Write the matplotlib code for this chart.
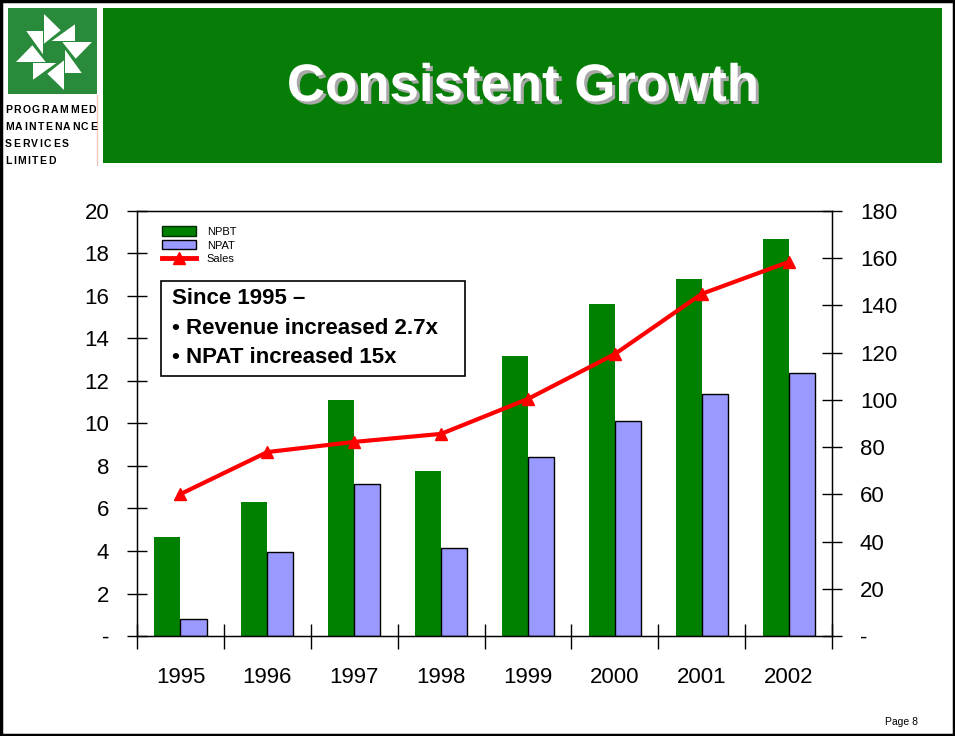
import numpy as np
import matplotlib.pyplot as plt
import matplotlib.patheffects as pe
from matplotlib.patches import Rectangle, Polygon, Patch
from matplotlib.lines import Line2D

plt.rcParams['font.family'] = ['Liberation Sans', 'DejaVu Sans']

# data
years = ['1995', '1996', '1997', '1998', '1999', '2000', '2001', '2002']
npbt = [4.66, 6.3, 11.1, 7.76, 13.18, 15.62, 16.8, 18.68]
npat = [0.8, 3.95, 7.15, 4.14, 8.42, 10.12, 11.39, 12.38]
sales = [60.1, 77.9, 82.2, 85.6, 100.4, 119.4, 144.9, 158.4]
left_ticks = [0, 2, 4, 6, 8, 10, 12, 14, 16, 18, 20]
right_ticks = [0, 20, 40, 60, 80, 100, 120, 140, 160, 180]
note_lines = ['Since 1995 \u2013', '\u2022 Revenue increased 2.7x', '\u2022 NPAT increased 15x']
logo_words = ['PROGRAMMED', 'MAINTENANCE', 'SERVICES', 'LIMITED']

W, H = 955, 736
fig = plt.figure(figsize=(W / 100, H / 100), dpi=100)

# overlay in pixel coords for the slide decoration
deco = fig.add_axes([0, 0, 1, 1])
deco.set_xlim(0, W)
deco.set_ylim(H, 0)
deco.set_axis_off()
deco.add_patch(Rectangle((1, 1), W - 2, H - 2, fill=False, ec='black', lw=2.5))
deco.add_patch(Rectangle((103, 8), 839, 155, color='#067d06', lw=0))
deco.text(522.5, 87, 'Consistent Growth', color='white', fontsize=38,
          fontweight='bold', ha='center', va='center',
          path_effects=[pe.SimplePatchShadow(offset=(2.2, -2.2), shadow_rgbFace='#a8a8a8',
                                             alpha=1), pe.Normal()])
deco.text(901, 722, 'Page 8', fontsize=7.5, ha='center', va='center')

# logo
deco.add_patch(Rectangle((8, 8), 89, 86, color='#2a8a3c', lw=0))
cx, cy = 54, 52
tri_a = np.array([[-10, -38], [6.7, -21.7], [-10, -8.3]])
tri_b = np.array([[-2.3, -11], [21, -27.7], [21, -11]])
for k in range(4):
    ang = np.pi / 2 * k
    rot = np.array([[np.cos(ang), -np.sin(ang)], [np.sin(ang), np.cos(ang)]])
    for tri in (tri_a, tri_b):
        pts = tri @ rot.T + [cx, cy]
        deco.add_patch(Polygon(pts, closed=True, color='white', lw=0))
deco.plot([97, 97], [95, 165], color='#f2c4c4', lw=1)

widths = {'P': .667, 'R': .722, 'O': .778, 'G': .778, 'A': .722, 'M': .833, 'E': .667,
          'D': .722, 'I': .278, 'N': .722, 'T': .611, 'C': .722, 'S': .667, 'V': .667,
          'L': .611}
em = 7.5 * 100 / 72
for word, yy in zip(logo_words, [110, 127, 144, 161]):
    xx = 5
    for ch in word:
        deco.text(xx, yy, ch, fontsize=7.5, fontweight='bold', ha='left', va='center')
        xx += widths[ch] * em + 1.5

# chart
ax = fig.add_axes([137 / W, 100 / H, 695 / W, 425 / H])
x = np.arange(len(years))
ax.bar(x - 0.15, npbt, 0.3, color='#008000', lw=0)
ax.bar(x + 0.15, npat, 0.3, color='#9999ff', edgecolor='black', lw=1)
ax.set_xlim(-0.5, len(years) - 0.5)
ax.set_ylim(0, 20)
ax.set_xticks(np.arange(len(years) + 1) - 0.5)
ax.set_xticklabels([])
ax.set_xticks(x, minor=True)
ax.set_xticklabels(years, minor=True)
ax.tick_params(axis='x', which='major', direction='inout', length=18, width=1)
ax.tick_params(axis='x', which='minor', length=0, pad=22, labelsize=16)
ax.set_yticks(left_ticks)
ax.set_yticklabels(['-' if v == 0 else str(v) for v in left_ticks])
ax.tick_params(axis='y', direction='inout', length=14, width=1, pad=13, labelsize=16)
for s in ax.spines.values():
    s.set_linewidth(1)

ax2 = ax.twinx()
ax2.plot(x, sales, color='red', lw=3, marker='^', ms=9)
ax2.set_ylim(0, 180)
ax2.set_yticks(right_ticks)
ax2.set_yticklabels(['-' if v == 0 else str(v) for v in right_ticks])
ax2.tick_params(axis='y', direction='inout', length=14, width=1, pad=13, labelsize=16)

handles = [Patch(facecolor='#008000', edgecolor='#002a00'),
           Patch(facecolor='#9999ff', edgecolor='black'),
           Line2D([], [], color='red', lw=3.5, marker='^', ms=8)]
ax2.legend(handles, ['NPBT', 'NPAT', 'Sales'], loc='upper left',
           bbox_to_anchor=(25 / 695, (636 - 226.5) / 425), frameon=False, fontsize=8,
           handlelength=3.06, handleheight=0.9, labelspacing=0.3,
           handletextpad=0.96, borderaxespad=0, borderpad=0)

ax2.add_patch(Rectangle((24 / 695, (636 - 376) / 425), 304 / 695, 95 / 425,
                        transform=ax2.transAxes, fc='white', ec='black', lw=1.2,
                        zorder=5))
for i, line in enumerate(note_lines):
    ax2.text(35 / 695, (636 - 299 - 29.5 * i) / 425, line, transform=ax2.transAxes,
             fontsize=16, fontweight='bold', va='center', ha='left', zorder=6)

fig.savefig('out.png', dpi=100)
